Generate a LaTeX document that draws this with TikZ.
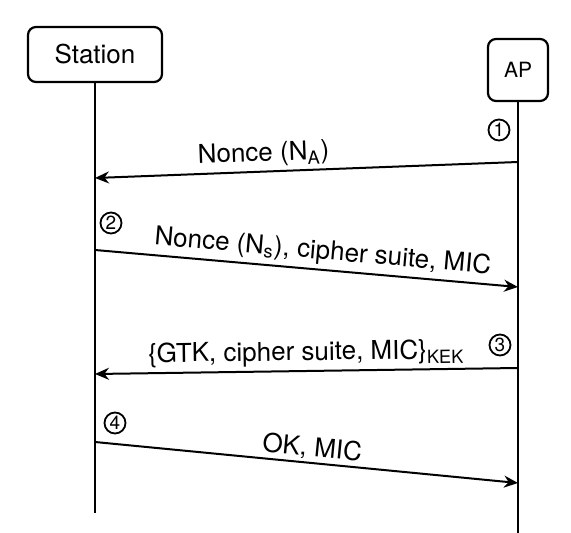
\documentclass[tikz,border=0pt]{standalone}
\usepackage{fontspec}
\setmainfont{TeX Gyre Heros}
\usetikzlibrary{arrows.meta,positioning}

\begin{document}
\begin{tikzpicture}[
  x=0.5pt,y=-0.5pt,
  font=\fontsize{13}{15}\selectfont,
  >={Stealth[length=7pt,width=6pt]},
  actor/.style ={draw,rectangle,rounded corners=4pt,line width=1.1pt,
                 inner sep=0pt},
  life/.style  ={line width=1.1pt},
  msg/.style   ={->,line width=1pt},
  num/.style   ={draw,circle,line width=0.9pt,inner sep=0pt,minimum size=10.5pt,
                 font=\fontsize{9.5}{10}\selectfont},
  lbl/.style   ={sloped,above,inner sep=2pt},
]
\useasboundingbox (0,0) rectangle (571,533);

%% ============================================================
%%  Participants and lifelines
%% ============================================================
\node[actor,minimum width=67pt,minimum height=27.5pt] (station) at (95,54.5) {Station};
\node[actor,minimum width=30pt,minimum height=31pt,
      font=\fontsize{10.5}{12}\selectfont] (ap) at (518,70) {AP};

\coordinate (stEnd) at (95,513);
\coordinate (apEnd) at (518,533);
\draw[life] (station.south) -- (stEnd);
\draw[life] (ap.south) -- (apEnd);

%% ============================================================
%%  Message end points on the lifelines
%% ============================================================
\coordinate (ap1) at (518,162); \coordinate (st1) at (95,178);
\coordinate (st2) at (95,250);  \coordinate (ap2) at (518,287);
\coordinate (ap3) at (518,368); \coordinate (st3) at (95,374);
\coordinate (st4) at (95,442);  \coordinate (ap4) at (518,483);

%% ============================================================
%%  Handshake messages
%% ============================================================
\draw[msg] (ap1) -- node[lbl,pos=0.6] (m1) {Nonce (N\textsubscript{A})} (st1);
\draw[msg] (st2) -- node[lbl,pos=0.535] (m2)
      {Nonce (N\textsubscript{s}), cipher suite, MIC} (ap2);
\draw[msg] (ap3) -- node[lbl,pos=0.5] (m3)
      {\{GTK, cipher suite, MIC\}\textsubscript{KEK}} (st3);
\draw[msg] (st4) -- node[lbl,pos=0.51,inner sep=1pt] (m4) {OK, MIC} (ap4);

%% step numbers
\node[num] (n1) at (499,130) {1};
\node[num] (n2) at (111,223) {2};
\node[num] (n3) at (500,345) {3};
\node[num] (n4) at (115,423) {4};

\end{tikzpicture}
\end{document}
